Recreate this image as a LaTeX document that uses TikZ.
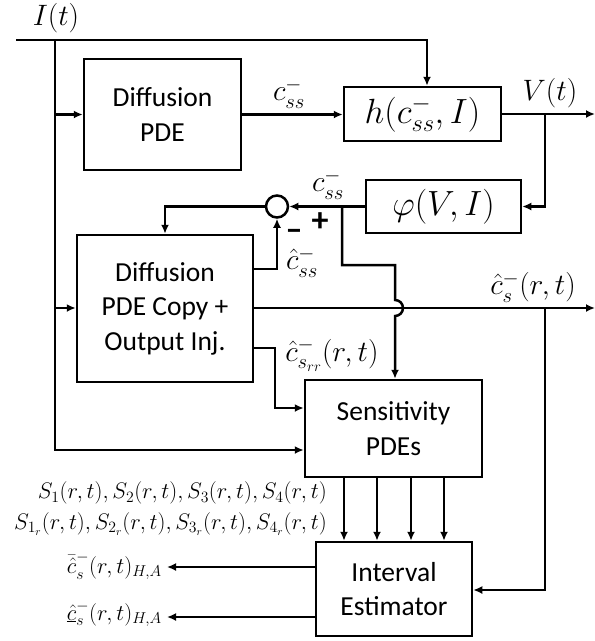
\RequirePackage{fix-cm}
\documentclass[tikz,border=0pt]{standalone}
\usepackage{fontspec}
\setmainfont{Carlito}
\usetikzlibrary{arrows.meta,calc}
\begin{document}
\begin{tikzpicture}[x=1pt,y=1pt,
  line width=2.5pt,
  >={Latex[length=9pt,width=8pt]},
  blk/.style={draw,rectangle,inner sep=0pt,align=center,font=\fontsize{27.5}{34.5}\selectfont},
  lbl/.style={inner sep=0pt,font=\fontsize{29.5}{34}\selectfont},
  sgn/.style={inner sep=0pt,font=\fontsize{34}{38}\selectfont\bfseries},
  slbl/.style={inner sep=0pt,font=\fontsize{22.5}{26}\selectfont},
  bigm/.style={font=\fontsize{35}{40}\selectfont}]
\useasboundingbox (0,0) rectangle (595,-641);
% blocks
\node[blk,minimum width=157pt,minimum height=111pt] (diff) at (162.5,-114.5) {Diffusion\\PDE};
\node[blk,bigm,minimum width=157pt,minimum height=54pt] (hbox) at (422.5,-114) {$h(c_{ss}^{-},I)$};
\node[blk,bigm,minimum width=155pt,minimum height=53pt] (phi) at (443.5,-206.5) {$\varphi(V,I)$};
\node[draw,circle,minimum size=22pt,inner sep=0pt] (circ) at (277,-206.5) {};
\node[blk,minimum width=176pt,minimum height=147pt] (copy) at (165,-308.5) {Diffusion\\PDE Copy +\\Output Inj.};
\node[blk,minimum width=177pt,minimum height=97pt] (sens) at (393.5,-428.5) {Sensitivity\\PDEs};
\node[blk,minimum width=156pt,minimum height=94pt] (intv) at (394,-589) {Interval\\Estimator};
% coordinates
\coordinate (tl) at (16,-40);
\coordinate (tj) at (55,-40);
\coordinate (tr) at (427,-40);
\coordinate (lb) at (55,-450);
\coordinate (vout) at (595,-114);
\coordinate (vb) at (545,-114);
\coordinate (cb) at (342,-206.5);
\coordinate (jt) at (395,-300);
\coordinate (cout) at (595,-308);
\coordinate (cbr) at (545,-308);
\coordinate (o1) at (167,-567);
\coordinate (o2) at (167,-617);
% input I(t)
\draw[->] (tl) -- (tr) -- (tr |- hbox.north);
\draw[->] (tj) -- (lb) -- (lb -| sens.west);
\draw[->] (tj |- diff.west) -- (diff.west);
\draw[->] (tj |- 0,-308) -- (0,-308 -| copy.west);
% diffusion -> h
\draw[->] (diff.east) -- (diff.east -| hbox.west);
% V(t)
\draw[->] (hbox.east) -- (vout);
\draw[->] (vb) -- (vb |- phi.east) -- (phi.east);
% phi -> circle
\draw[->] (phi.west) -- (circ.east);
\draw[->] (circ.west) -- (165,-206.5) -- (copy.north);
\draw[->] (copy.east |- 0,-269) -- (277,-269) -- (circ.south);
% c_ss branch to sensitivity with jump
\draw[->] (cb) -- (342,-265) -- (395,-265) -- (jt) arc[start angle=90,end angle=-90,radius=8pt] -- (jt |- sens.north);
% chat output
\draw[->] (copy.east |- 0,-308) -- (cout);
\draw[->] (cbr) -- (cbr |- 0,-590) -- (intv.east |- 0,-590);
% c_srr
\draw[->] (copy.east |- 0,-348) -- (275,-348) -- (275,-408) -- (sens.west |- 0,-408);
% sensitivity -> interval
\foreach \xx in {344,377,411,444}
  \draw[->] (sens.south -| \xx,0) -- (intv.north -| \xx,0);
% outputs
\draw[->] (intv.west |- o1) -- (o1);
\draw[->] (intv.west |- o2) -- (o2);
% labels
\node[lbl] (lI) at (56,-18) {$I(t)$};
\node[lbl] (lc1) at (289,-93) {$c_{ss}^{-}$};
\node[lbl] (lV) at (550,-93) {$V(t)$};
\node[lbl] (lc2) at (328,-184) {$c_{ss}^{-}$};
\node[sgn] (lplus) at (320,-222) {+};
\node[sgn] (lminus) at (294,-235) {--};
\node[lbl] (lch) at (302,-262) {$\hat{c}_{ss}^{-}$};
\node[lbl] (lcs) at (533,-287) {$\hat{c}_{s}^{-}(r,t)$};
\node[lbl,anchor=west] (lcrr) at (284,-355) {$\hat{c}_{s_{rr}}^{-}(r,t)$};
\node[slbl,anchor=east] (ls1) at (328,-493) {$S_1(r,t),S_2(r,t),S_3(r,t),S_4(r,t)$};
\node[slbl,anchor=east] (ls2) at (328,-524) {$S_{1_r}(r,t),S_{2_r}(r,t),S_{3_r}(r,t),S_{4_r}(r,t)$};
\node[slbl,anchor=east] (lo1) at (163,-566) {$\bar{\hat{c}}_{s}^{-}(r,t)_{H,A}$};
\node[slbl,anchor=east] (lo2) at (163,-614) {$\underline{\hat{c}}_{s}^{-}(r,t)_{H,A}$};
\end{tikzpicture}
\end{document}
